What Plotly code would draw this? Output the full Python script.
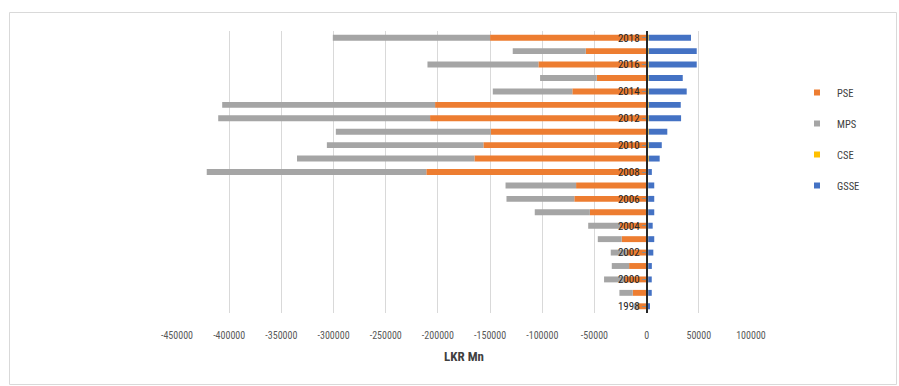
import plotly.graph_objects as go

years = list(range(1998, 2019))
pse = [-8500, -13300, -20700, -16800, -19000, -23900, -25500, -54400, -69300, -67600,
       -211100, -165000, -156400, -149300, -207500, -202700, -71200, -47800, -103700, -58300, -150000]
mps = [-3500, -12800, -20100, -16600, -15400, -22900, -30500, -52800, -65000, -67600,
       -210400, -170000, -150000, -148500, -203000, -204000, -76200, -54300, -106300, -70000, -150700]
cse = [1500, 1500, 1500, 1500, 1500, 1500, 1500, 1500, 1500, 1500,
       1500, 2000, 2000, 2000, 2000, 2000, 2000, 2000, 2000, 2000, 2000]
gsse = [1500, 3400, 3400, 3500, 4900, 5800, 4300, 5800, 5800, 5800,
        3500, 10500, 12500, 17800, 31000, 30700, 36400, 32600, 46000, 46000, 40500]

series = [("PSE", pse, "#ED7D31"), ("MPS", mps, "#A5A5A5"),
          ("CSE", cse, "#FFC000"), ("GSSE", gsse, "#4472C4")]

x_tickvals = list(range(-450000, 100001, 50000))
x_min, x_max = -450000, 100000

W, H = 899, 386
L, R, T, B = 177, 751, 31, 313  # plot area pixel bounds

FONT = "Liberation Sans Narrow, Roboto Condensed, Liberation Sans, sans-serif"

fig = go.Figure()
for name, vals, col in series:
    fig.add_trace(go.Bar(y=years, x=vals, name=name, orientation="h",
                         marker=dict(color=col, line=dict(width=0)),
                         showlegend=False, hoverinfo="x+y+name"))
for i, (name, vals, col) in enumerate(series):
    fig.add_trace(go.Scatter(x=[None], y=[None], mode="markers", name=name,
                             marker=dict(symbol="square", size=6, color=col),
                             legendgroup=f"g{i}", showlegend=True))

pw = R - L
ph = B - T
def px_to_paper_x(px):
    return (px - L) / pw
def px_to_paper_y(py):
    return (B - py) / ph

zero_frac = (0 - x_min) / (x_max - x_min)

fig.update_layout(
    width=W, height=H,
    margin=dict(l=L, r=W - R, t=T, b=H - B, pad=0),
    paper_bgcolor="white", plot_bgcolor="white",
    barmode="relative", bargap=0.56,
    font=dict(family=FONT, color="#404040", size=11),
    xaxis=dict(range=[x_min, x_max], tickvals=x_tickvals,
               ticktext=[str(v) for v in x_tickvals],
               showgrid=True, gridcolor="#d9d9d9", gridwidth=1,
               zeroline=False, showline=False,
               ticks="outside", ticklen=13, tickcolor="rgba(0,0,0,0)",
               tickfont=dict(size=10, color="#595959", family=FONT),
               title=dict(text="<b>LKR Mn</b>", standoff=11,
                          font=dict(size=13, color="#404040", family=FONT)),
               fixedrange=True),
    yaxis=dict(range=[1997.5, 2018.5], tick0=1998, dtick=2,
               anchor="free", position=zero_frac,
               showline=True, linecolor="#262626", linewidth=1.5,
               ticks="outside", ticklen=4, tickcolor="#8c8c8c",
               showgrid=False, zeroline=False,
               tickfont=dict(size=11, color="#262626", family=FONT),
               fixedrange=True),
    legend=dict(x=px_to_paper_x(797), y=px_to_paper_y(78), xanchor="left", yanchor="top",
                traceorder="grouped", tracegroupgap=12,
                font=dict(size=10.5, color="#404040", family=FONT),
                itemwidth=30, bgcolor="rgba(0,0,0,0)"),
    shapes=[dict(type="rect", xref="paper", yref="paper",
                 x0=px_to_paper_x(9.5), x1=px_to_paper_x(896.5),
                 y0=px_to_paper_y(384.5), y1=px_to_paper_y(12.5),
                 line=dict(color="#d9d9d9", width=1), layer="below")],
)

fig.write_html("out.html")
